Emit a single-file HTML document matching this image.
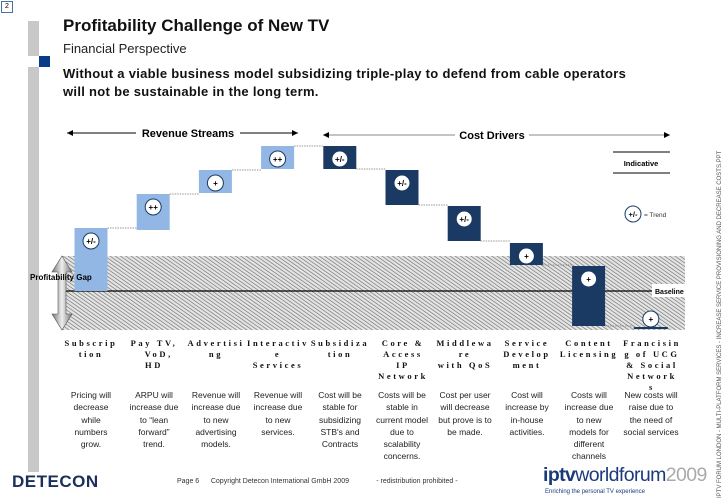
<!DOCTYPE html>
<html><head><meta charset="utf-8">
<style>
body{margin:0;width:728px;height:504px;background:#fff;position:relative;overflow:hidden;font-family:"Liberation Sans",sans-serif;}
.abs{position:absolute;}
.cat{position:absolute;top:338px;width:64px;text-align:center;font-family:"Liberation Serif",serif;font-weight:bold;font-size:8.5px;letter-spacing:2.6px;line-height:11px;color:#111;white-space:nowrap;}
.desc{position:absolute;top:389px;width:54px;text-align:center;font-size:8.5px;line-height:12.3px;color:#222;}
</style></head><body>
<div class="abs" style="left:1px;top:1px;width:10px;height:10px;border:1px solid #4a6fa5;font-size:7px;line-height:10px;text-align:center">2</div>
<div class="abs" style="left:28px;top:21px;width:11px;height:35px;background:#c8c8c8"></div>
<div class="abs" style="left:39px;top:56px;width:11px;height:11px;background:#0a3a8a"></div>
<div class="abs" style="left:28px;top:67px;width:11px;height:405px;background:#c8c8c8"></div>
<div class="abs" style="left:63px;top:16px;font-size:17px;font-weight:bold;color:#111">Profitability Challenge of New TV</div>
<div class="abs" style="left:63px;top:41px;font-size:13px;color:#222">Financial Perspective</div>
<div class="abs" style="left:63px;top:65px;font-size:13px;font-weight:bold;line-height:18px;color:#111;letter-spacing:0.3px">Without a viable business model subsidizing triple-play to defend from cable operators<br>will not be sustainable in the long term.</div>
<div class="abs" style="left:717px;top:498px;transform-origin:0 0;transform:rotate(-90deg);font-size:6px;color:#555;white-space:nowrap">IPTV FORUM LONDON - MULTI-PLATFORM SERVICES - INCREASE SERVICE PROVISIONING AND DECREASE COSTS.PPT</div>

<svg class="abs" style="left:0;top:0" width="728" height="504">
<defs>
<pattern id="hatch" width="3" height="3" patternUnits="userSpaceOnUse" patternTransform="rotate(-55)">
<rect width="3" height="3" fill="#e4e4e4"/><line x1="0" y1="0" x2="0" y2="3" stroke="#666" stroke-width="1.2"/></pattern>
<linearGradient id="ag" x1="0" x2="1"><stop offset="0" stop-color="#777"/><stop offset="0.5" stop-color="#eee"/><stop offset="1" stop-color="#777"/></linearGradient>
</defs>
<g id="chart"></g>
</svg>

<div class="cat" style="left:59px">Subscrip<br>tion</div>
<div class="cat" style="left:122px">Pay TV,<br>&nbsp;&nbsp;VoD,<br>HD</div>
<div class="cat" style="left:184px">Advertisi<br>ng</div>
<div class="cat" style="left:246px">Interactiv<br>e<br>Services</div>
<div class="cat" style="left:308px">Subsidiza<br>tion</div>
<div class="cat" style="left:371px">Core &amp;<br>Access<br>IP<br>Network</div>
<div class="cat" style="left:433px">Middlewa<br>re<br>with QoS</div>
<div class="cat" style="left:495px">Service<br>Develop<br>ment</div>
<div class="cat" style="left:557px">Content<br>Licensing</div>
<div class="cat" style="left:620px">Francisin<br>g of UCG<br>&amp; Social<br>Network<br>s</div>

<div class="desc" style="left:64px">Pricing will decrease while numbers grow.</div>
<div class="desc" style="left:127px">ARPU will increase due to “lean forward” trend.</div>
<div class="desc" style="left:189px">Revenue will increase due to new advertising models.</div>
<div class="desc" style="left:251px">Revenue will increase due to new services.</div>
<div class="desc" style="left:313px">Cost will be stable for subsidizing STB's and Contracts</div>
<div class="desc" style="left:375px">Costs will be stable in current model due to scalability concerns.</div>
<div class="desc" style="left:438px">Cost per user will decrease but prove is to be made.</div>
<div class="desc" style="left:500px">Cost will increase by in-house activities.</div>
<div class="desc" style="left:562px">Costs will increase due to new models for different channels</div>
<div class="desc" style="left:622px;width:58px">New costs will raise due to the need of social services</div>

<div class="abs" style="left:12px;top:472px;font-size:17px;font-weight:bold;color:#1a2f5a;letter-spacing:0.5px">DETECON</div>
<div class="abs" style="left:177px;top:478px;font-size:7px;color:#333">Page 6 &nbsp;&nbsp;&nbsp;&nbsp; Copyright Detecon International GmbH 2009 &nbsp;&nbsp;&nbsp;&nbsp;&nbsp;&nbsp;&nbsp;&nbsp;&nbsp;&nbsp;&nbsp;&nbsp; - redistribution prohibited -</div>
<div class="abs" style="left:543px;top:464px;font-size:19.5px;color:#1a3a7a;letter-spacing:-0.6px"><b>iptv</b>worldforum<span style="color:#aaa">2009</span></div>
<div class="abs" style="left:545px;top:489px;font-size:6px;color:#1a3a7a">Enriching the personal TV experience</div>

<script>
const categories=["Subscription","Pay TV, VoD, HD","Advertising","Interactive Services","Subsidization","Core & Access IP Network","Middleware with QoS","Service Development","Content Licensing","Franchising of UCG & Social Networks"];
const barStart=[0,6.1,9.8,12.2,14.5,12.1,8.5,4.8,2.5,-3.6];
const barEnd=[6.3,9.7,12.1,14.5,12.2,8.6,5.0,2.6,-3.5,-3.6];
const barType=["rev","rev","rev","rev","cost","cost","cost","cost","cost","cost"];
const trendLabels=["+/-","++","+","++","+/-","+/-","+/-","+","+","+"];
const NS="http://www.w3.org/2000/svg";
const g=document.getElementById('chart');
const x=i=>91+i*62.2;
const y=v=>291-v*10;
function mk(t,a){const e=document.createElementNS(NS,t);for(const k in a)e.setAttribute(k,a[k]);g.appendChild(e);return e;}
let e;
e=mk('rect',{x:62,y:256,width:623,height:74,fill:'url(#hatch)'});


e=mk('line',{x1:62,y1:y(0),x2:652,y2:y(0),stroke:'#000','stroke-width':1.3});


e=mk('rect',{x:652,y:284,width:38,height:13,fill:'#fff'});
e=mk('text',{x:655,y:294,'font-size':7,'font-weight':'bold','font-family':'Liberation Sans'});e.textContent='Baseline';


for(let i=0;i<categories.length;i++){
  const top=Math.min(y(barStart[i]),y(barEnd[i])),h=Math.abs(y(barStart[i])-y(barEnd[i]));
  if(h>1){
    e=mk('rect',{x:x(i)-16.5,y:top,width:33,height:h,fill:barType[i]=='rev'?'#93b7e5':'#1b3a63'});
    
    
  } else {
    e=mk('line',{x1:x(i)-17,y1:top+1,x2:x(i)+17,y2:top+1,stroke:'#1b3a63','stroke-width':2});
    
    
  }
  if(i<categories.length-1){
    const lv=y(barEnd[i]);
    e=mk('line',{x1:x(i)+16.5,y1:lv,x2:x(i+1)-16.5,y2:lv,stroke:'#777','stroke-dasharray':'1.5,1','stroke-width':0.8});
  }
  const cy=h>1?top+13:top-8;
  e=mk('circle',{cx:x(i),cy:cy,r:8,fill:'#fff',stroke:'#1b3a63','stroke-width':1});
  
  
  e=mk('text',{x:x(i),y:cy+3,'font-size':8,'font-weight':'bold','text-anchor':'middle','font-family':'Liberation Sans'});e.textContent=trendLabels[i];
}
function arrow(x1,x2,yy,label,lx,lw,nm,col){
  mk('line',{x1:x1,y1:yy,x2:lx-4,y2:yy,stroke:col,'stroke-width':1});
  mk('line',{x1:lx+lw+4,y1:yy,x2:x2,y2:yy,stroke:col,'stroke-width':1});
  mk('path',{d:`M${x1} ${yy}l6 -3v6z`,fill:'#000'});
  mk('path',{d:`M${x2} ${yy}l-6 -3v6z`,fill:'#000'});
  const t=mk('text',{x:lx+lw/2,y:yy+4,'font-size':11,'font-weight':'bold','text-anchor':'middle','font-family':'Liberation Sans'});t.textContent=label;
  
  
}
arrow(67,298,133,'Revenue Streams',140,96,'revenue-streams-label','#000');
arrow(323,670,135,'Cost Drivers',459,66,'cost-drivers-label','#888');
mk('line',{x1:613,y1:152,x2:670,y2:152,stroke:'#000'});
mk('line',{x1:613,y1:173,x2:670,y2:173,stroke:'#000'});
e=mk('text',{x:641,y:166,'font-size':7.5,'font-weight':'bold','text-anchor':'middle','font-family':'Liberation Sans'});e.textContent='Indicative';


e=mk('circle',{cx:633,cy:214,r:8,fill:'#fff',stroke:'#1b3a63'});


mk('text',{x:633,y:217,'font-size':7.5,'font-weight':'bold','text-anchor':'middle','font-family':'Liberation Sans'}).textContent='+/-';
mk('text',{x:644,y:217,'font-size':6.5,'font-family':'Liberation Sans',fill:'#333'}).textContent='= Trend';
e=mk('path',{d:'M62 256 L72 272 L66 272 L66 314 L72 314 L62 330 L52 314 L58 314 L58 272 L52 272 Z',fill:'url(#ag)',stroke:'#555','stroke-width':0.6});


e=mk('text',{x:30,y:280,'font-size':8,'font-weight':'bold','font-family':'Liberation Sans'});e.textContent='Profitability Gap';


</script>
</body></html>
